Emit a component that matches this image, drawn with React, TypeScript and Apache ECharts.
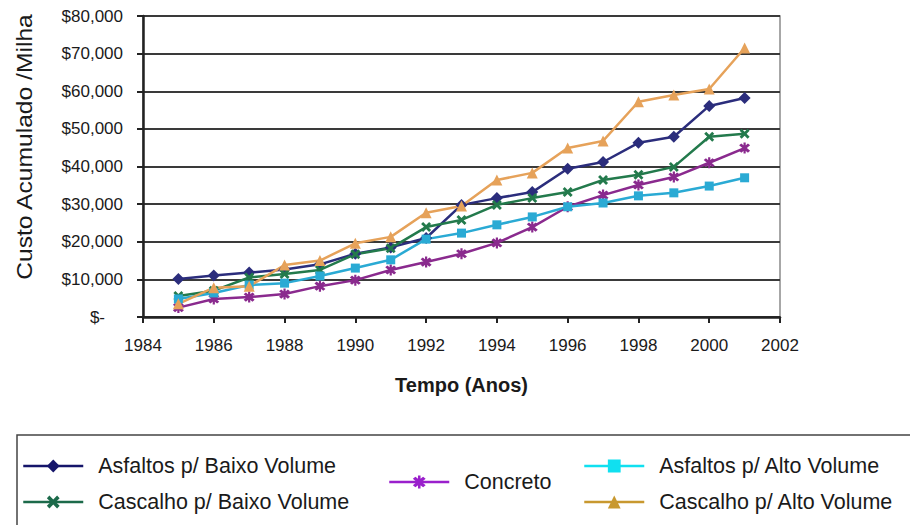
import React, { useEffect, useRef } from "react";
import * as echarts from "echarts";

// Cumulative cost per mile, 1985–2001
const years = [1985, 1986, 1987, 1988, 1989, 1990, 1991, 1992, 1993, 1994, 1995, 1996, 1997, 1998, 1999, 2000, 2001];
const asfaltosBaixo = [10100, 11000, 11800, 12600, 14000, 16800, 18500, 21000, 29800, 31600, 33200, 39400, 41200, 46300, 47900, 56100, 58200];
const cascalhoBaixo = [5600, 7000, 10500, 11400, 12500, 16700, 18300, 23900, 25800, 29800, 31600, 33200, 36400, 37800, 39900, 47900, 48700];
const concreto = [2500, 4800, 5300, 6100, 8200, 9800, 12500, 14600, 16800, 19700, 23900, 29300, 32400, 35100, 37200, 41000, 44900];
const asfaltosAlto = [4800, 6400, 8500, 9000, 10900, 13000, 15200, 20700, 22300, 24500, 26600, 29300, 30300, 32200, 33000, 34800, 37000];
const cascalhoAlto = [3500, 7800, 8200, 13800, 15000, 19600, 21300, 27700, 29500, 36400, 38300, 44900, 46800, 57200, 59000, 60600, 71500];

const seriesNames = [
  "Asfaltos p/ Baixo Volume",
  "Cascalho p/ Baixo Volume",
  "Concreto",
  "Asfaltos p/ Alto Volume",
  "Cascalho p/ Alto Volume",
];

const FONT = "Liberation Sans";

// filled marker shapes
const CROSS = "path://M2,0 L5,3 L8,0 L10,2 L7,5 L10,8 L8,10 L5,7 L2,10 L0,8 L3,5 L0,2 Z";
const STAR = "path://M2,0 L5,3 L8,0 L10,2 L7,5 L10,8 L8,10 L5,7 L2,10 L0,8 L3,5 L0,2 Z M4,-1 L6,-1 L6,11 L4,11 Z";

const pairs = (vals: number[]) => years.map((y, i) => [y, vals[i]]);

export default function App() {
  const ref = useRef<HTMLDivElement>(null);

  useEffect(() => {
    if (!ref.current) return;
    const chart = echarts.init(ref.current, undefined, { renderer: "svg" });

    const lineSeries = (
      name: string,
      vals: number[],
      color: string,
      symbol: string,
      symbolSize: number
    ) => ({
      name,
      type: "line",
      data: pairs(vals),
      symbol,
      symbolSize,
      lineStyle: { color, width: 2.5 },
      itemStyle: { color },
      emphasis: { disabled: true },
    });

    const legendText = {
      fontFamily: FONT,
      fontSize: 21.5,
      color: "#1a1a1a",
      lineHeight: 24,
      padding: [0, 0, 0, 10],
    };
    const legendCommon = {
      orient: "vertical",
      itemWidth: 60,
      itemHeight: 16,
      itemGap: 12,
      textStyle: legendText,
      selectedMode: false,
    };

    chart.setOption({
      animation: false,
      backgroundColor: "#ffffff",
      grid: {
        left: 143,
        right: 130,
        top: 16,
        bottom: 208,
        show: true,
        borderColor: "#8a8a8a",
        borderWidth: 1.5,
      },
      xAxis: {
        type: "value",
        min: 1984,
        max: 2002,
        interval: 2,
        name: "Tempo (Anos)",
        nameLocation: "middle",
        nameGap: 58,
        nameTextStyle: { fontFamily: FONT, fontSize: 20, fontWeight: "bold", color: "#1a1a1a" },
        axisLine: { show: true, lineStyle: { color: "#222", width: 2.5 } },
        axisTick: { show: true, length: 6, lineStyle: { color: "#222", width: 2 } },
        axisLabel: {
          fontFamily: FONT,
          fontSize: 17,
          color: "#1a1a1a",
          margin: 20,
          formatter: (v: number) => String(v),
        },
        splitLine: { show: false },
      },
      yAxis: {
        type: "value",
        min: 0,
        max: 80000,
        interval: 10000,
        axisLine: { show: true, lineStyle: { color: "#222", width: 2.5 } },
        axisTick: { show: true, length: 6, lineStyle: { color: "#222", width: 2 } },
        axisLabel: {
          fontFamily: FONT,
          fontSize: 17,
          color: "#1a1a1a",
          margin: 20,
          formatter: (v: number) =>
            v === 0 ? "{z|$-}" : "$" + v.toLocaleString("en-US"),
          rich: {
            z: { fontFamily: FONT, fontSize: 17, color: "#1a1a1a", padding: [0, 18, 0, 0] },
          },
        },
        splitLine: { show: true, lineStyle: { color: "#3a3a3a", width: 2 } },
      },
      legend: [
        {
          ...legendCommon,
          left: 17,
          top: 449,
          data: [
            { name: seriesNames[0], itemStyle: { color: "#15156a" }, lineStyle: { color: "#15156a", width: 2.5 } },
            { name: seriesNames[1], itemStyle: { color: "#1c6a4a" }, lineStyle: { color: "#1c6a4a", width: 2.5 } },
          ],
        },
        {
          ...legendCommon,
          left: 383,
          top: 465,
          data: [
            { name: seriesNames[2], itemStyle: { color: "#9a20cc" }, lineStyle: { color: "#9a20cc", width: 2.5 } },
          ],
        },
        {
          ...legendCommon,
          left: 578,
          top: 449,
          data: [
            { name: seriesNames[3], itemStyle: { color: "#10e0f0" }, lineStyle: { color: "#10e0f0", width: 2.5 } },
            { name: seriesNames[4], itemStyle: { color: "#c8982f" }, lineStyle: { color: "#c8982f", width: 2.5 } },
          ],
        },
      ],
      graphic: [
        {
          type: "rect",
          z: 0,
          shape: { x: 17, y: 435, width: 1000, height: 200 },
          style: { fill: "none", stroke: "#444", lineWidth: 1.5 },
        },
        {
          type: "text",
          x: 24,
          y: 147,
          rotation: Math.PI / 2,
          scaleX: 1.12,
          style: {
            text: "Custo Acumulado /Milha",
            fontFamily: FONT,
            fontSize: 22,
            fill: "#1a1a1a",
            align: "center",
            verticalAlign: "middle",
          },
        },
      ],
      series: [
        lineSeries(seriesNames[0], asfaltosBaixo, "#2b2d7c", "diamond", 12),
        lineSeries(seriesNames[1], cascalhoBaixo, "#237a4c", CROSS, 10),
        lineSeries(seriesNames[2], concreto, "#8a2a8e", STAR, 11),
        lineSeries(seriesNames[3], asfaltosAlto, "#2aaad4", "rect", 9),
        lineSeries(seriesNames[4], cascalhoAlto, "#e6a25a", "triangle", 11),
      ],
    });

    return () => chart.dispose();
  }, []);

  return (
    <div
      ref={ref}
      style={{ position: "absolute", left: 0, top: 0, width: 910, height: 525, background: "#fff" }}
    />
  );
}
